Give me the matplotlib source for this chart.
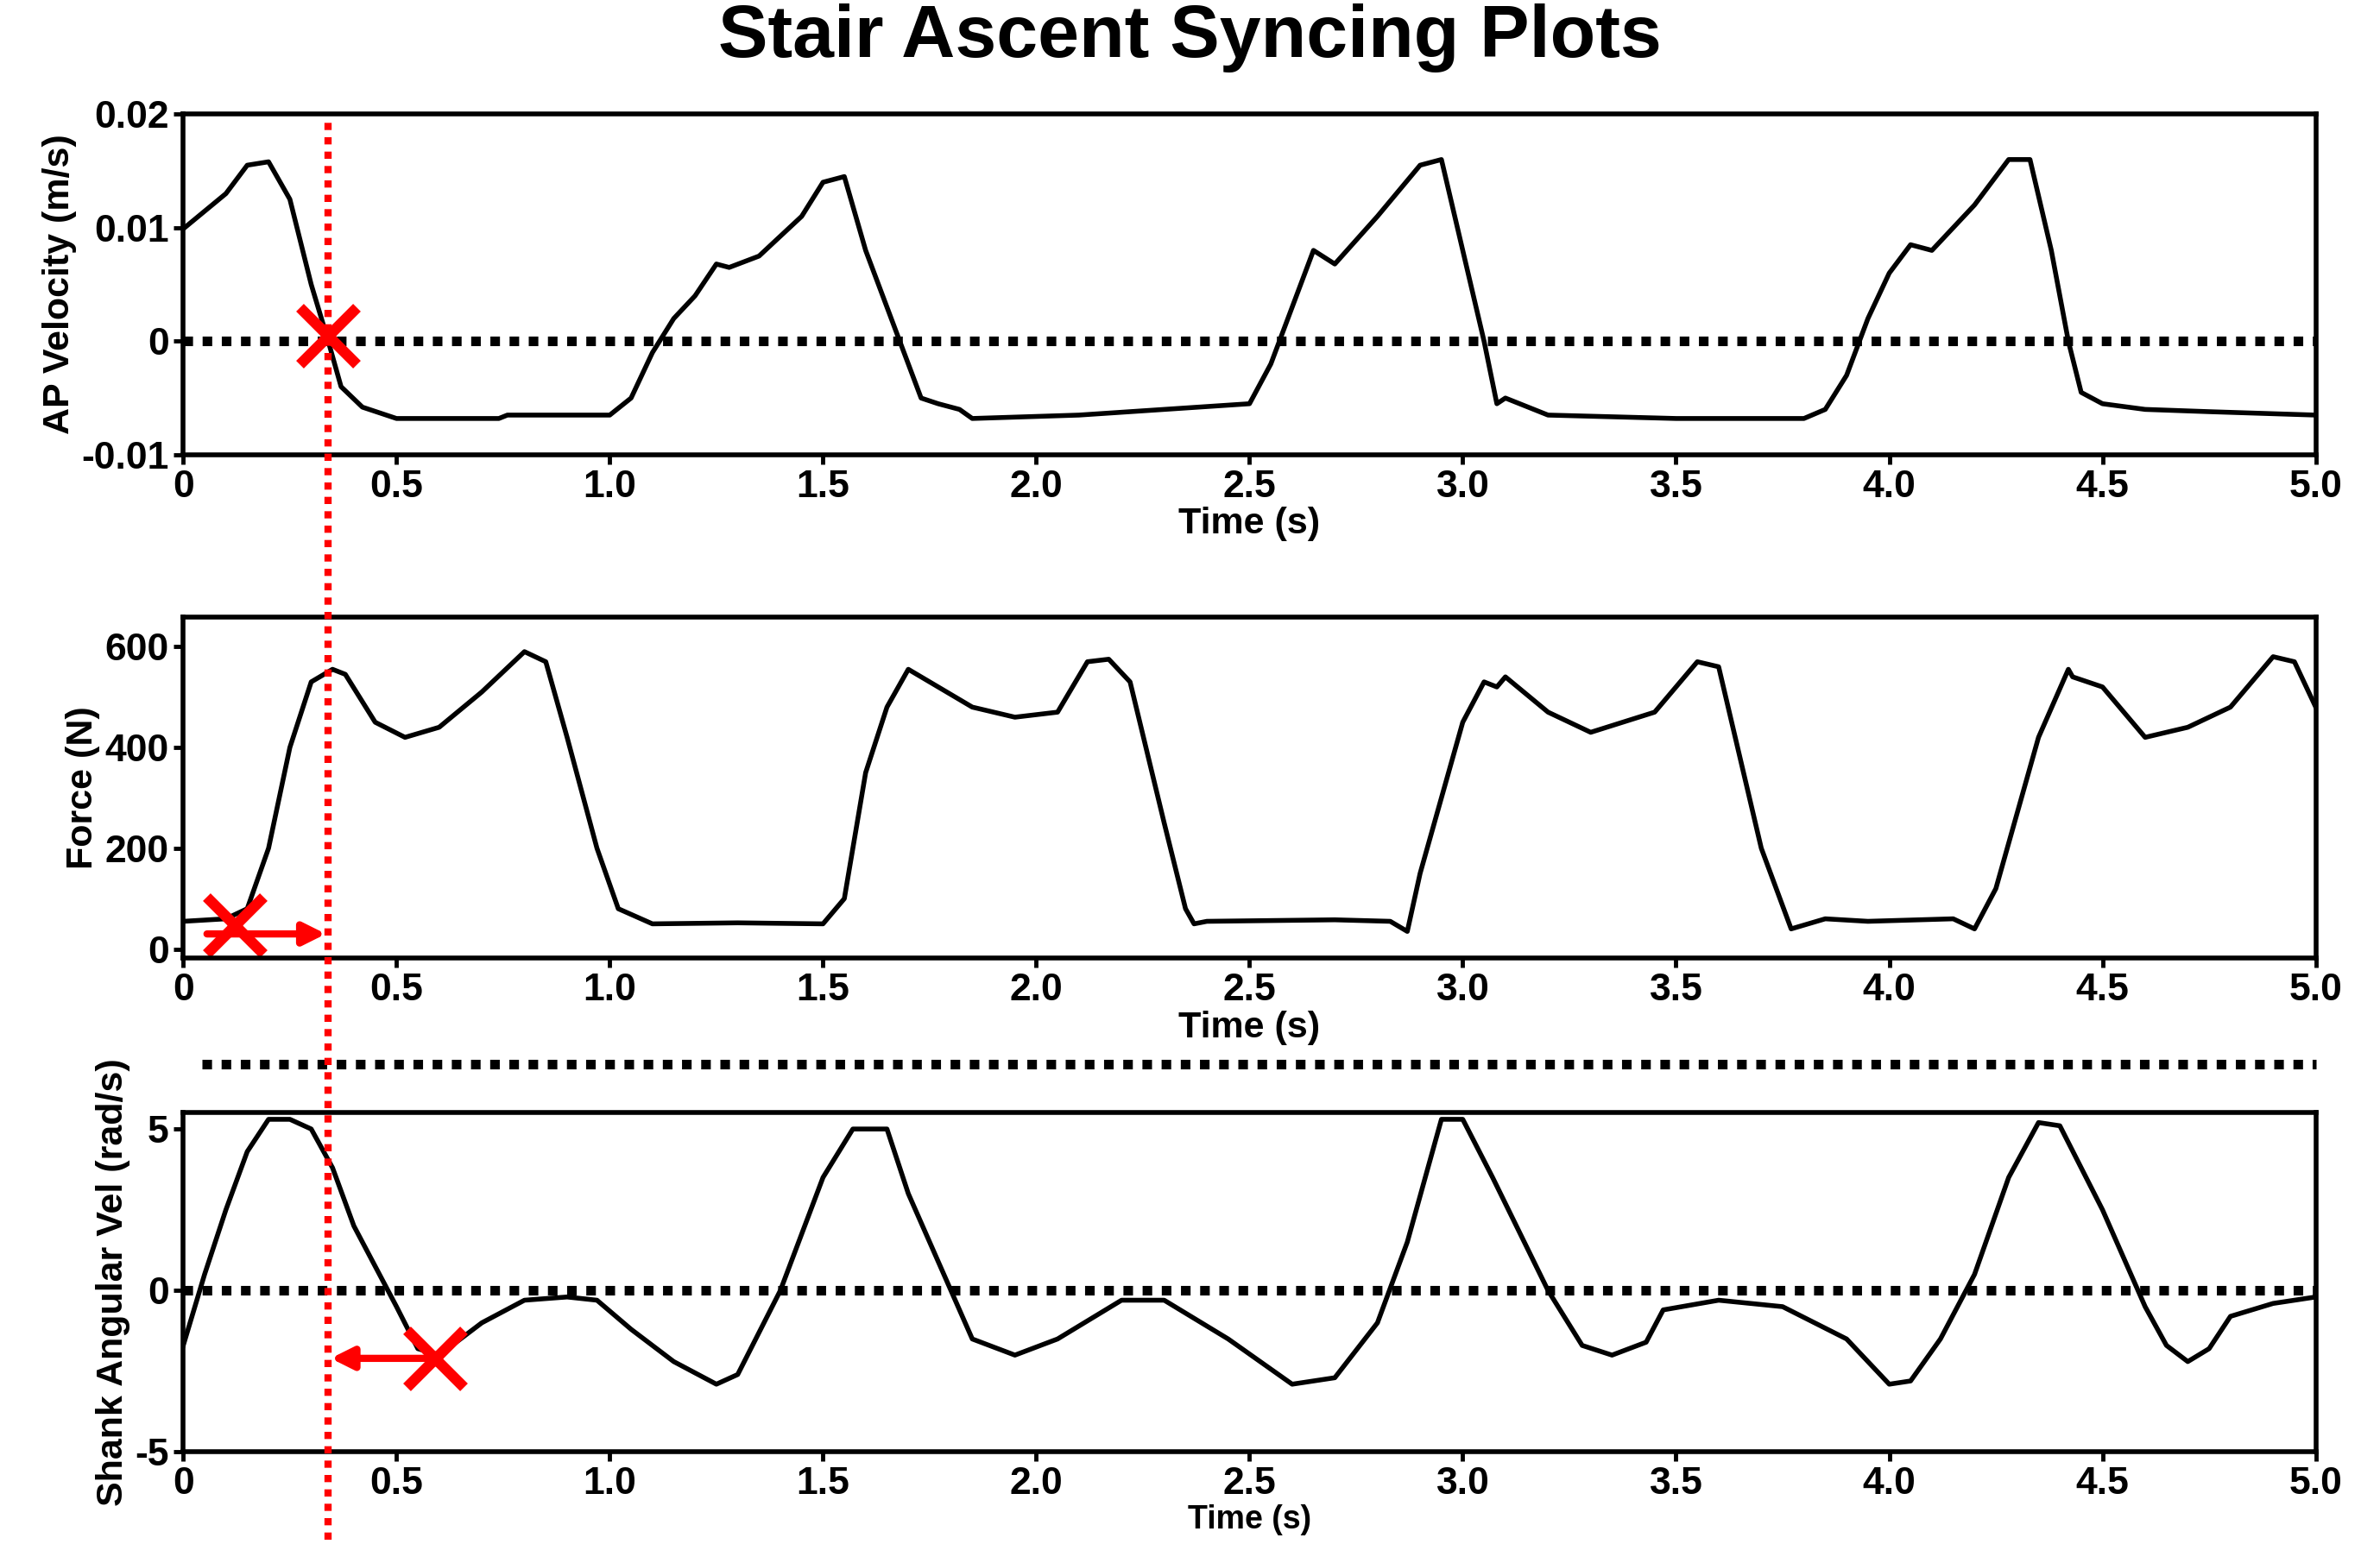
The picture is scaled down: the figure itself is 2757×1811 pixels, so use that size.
import numpy as np
import matplotlib.pyplot as plt
import matplotlib.transforms as mtrans
from matplotlib.lines import Line2D

plt.rcParams['font.family'] = ['Liberation Sans', 'DejaVu Sans']
plt.rcParams['font.weight'] = 'bold'
plt.rcParams['axes.unicode_minus'] = False

# AP velocity waypoints
t_vel = [0, 0.1, 0.15, 0.2, 0.25, 0.3, 0.34, 0.37, 0.42, 0.5, 0.74, 0.76, 1.0, 1.05, 1.1, 1.15, 1.2, 1.25,
         1.28, 1.35, 1.45, 1.5, 1.55, 1.6, 1.68, 1.73, 1.77, 1.82, 1.85, 2.1, 2.5, 2.55, 2.6, 2.65, 2.7,
         2.8, 2.9, 2.95, 3.0, 3.05, 3.08, 3.1, 3.2, 3.5, 3.8, 3.85, 3.9, 3.95, 4.0, 4.05, 4.1, 4.2, 4.28,
         4.33, 4.38, 4.42, 4.45, 4.5, 4.6, 4.75, 5.0]
vel = [0.0099, 0.013, 0.0155, 0.0158, 0.0125, 0.005, 0.0, -0.004, -0.0058, -0.0068, -0.0068, -0.0065,
       -0.0065, -0.005, -0.001, 0.002, 0.004, 0.0068, 0.0065, 0.0075, 0.011, 0.014, 0.0145, 0.008, 0.0,
       -0.005, -0.0055, -0.006, -0.0068, -0.0065, -0.0055, -0.002, 0.003, 0.008, 0.0068, 0.011, 0.0155,
       0.016, 0.008, 0.0, -0.0055, -0.005, -0.0065, -0.0068, -0.0068, -0.006, -0.003, 0.002, 0.006,
       0.0085, 0.008, 0.012, 0.016, 0.016, 0.008, 0.0, -0.0045, -0.0055, -0.006, -0.0062, -0.0065]

# vertical force
t_force = [0, 0.1, 0.15, 0.2, 0.25, 0.3, 0.35, 0.38, 0.45, 0.52, 0.6, 0.7, 0.8, 0.85, 0.9, 0.97, 1.02,
           1.1, 1.3, 1.5, 1.55, 1.6, 1.65, 1.7, 1.75, 1.85, 1.95, 2.05, 2.12, 2.17, 2.22, 2.3, 2.35, 2.37,
           2.4, 2.7, 2.83, 2.87, 2.9, 3.0, 3.05, 3.08, 3.1, 3.2, 3.3, 3.45, 3.55, 3.6, 3.7, 3.77, 3.85,
           3.95, 4.15, 4.2, 4.25, 4.35, 4.42, 4.43, 4.5, 4.6, 4.7, 4.8, 4.9, 4.95, 5.0]
force = [55, 60, 80, 200, 400, 530, 555, 545, 450, 420, 440, 510, 590, 570, 420, 200, 80, 50, 52, 50,
         100, 350, 480, 555, 530, 480, 460, 470, 570, 575, 530, 250, 80, 50, 55, 58, 55, 35, 150, 450,
         530, 520, 540, 470, 430, 470, 570, 560, 200, 40, 60, 55, 60, 40, 120, 420, 555, 540, 520, 420,
         440, 480, 580, 570, 480]

# shank angular velocity
t_shank = [0, 0.05, 0.1, 0.15, 0.2, 0.25, 0.3, 0.35, 0.4, 0.5, 0.55, 0.6, 0.7, 0.8, 0.9, 0.97, 1.05,
           1.15, 1.25, 1.3, 1.4, 1.5, 1.57, 1.65, 1.7, 1.8, 1.85, 1.95, 2.05, 2.2, 2.3, 2.45, 2.6, 2.7,
           2.8, 2.87, 2.95, 3.0, 3.07, 3.2, 3.28, 3.35, 3.43, 3.47, 3.6, 3.75, 3.9, 4.0, 4.05, 4.12, 4.2,
           4.28, 4.35, 4.4, 4.5, 4.6, 4.65, 4.7, 4.75, 4.8, 4.9, 5.0]
shank = [-1.7, 0.5, 2.5, 4.3, 5.3, 5.3, 5.0, 3.8, 2.0, -0.5, -1.8, -2.0, -1.0, -0.3, -0.2, -0.3, -1.2,
         -2.2, -2.9, -2.6, 0.0, 3.5, 5.0, 5.0, 3.0, 0.0, -1.5, -2.0, -1.5, -0.3, -0.3, -1.5, -2.9, -2.7,
         -1.0, 1.5, 5.3, 5.3, 3.5, 0.0, -1.7, -2.0, -1.6, -0.6, -0.3, -0.5, -1.5, -2.9, -2.8, -1.5, 0.5,
         3.5, 5.2, 5.1, 2.5, -0.5, -1.7, -2.2, -1.8, -0.8, -0.4, -0.2]

x_ticks = [0, 0.5, 1.0, 1.5, 2.0, 2.5, 3.0, 3.5, 4.0, 4.5, 5.0]
x_ticklabels = ['0', '0.5', '1.0', '1.5', '2.0', '2.5', '3.0', '3.5', '4.0', '4.5', '5.0']
t_sync = 0.34

fig = plt.figure(figsize=(27.57, 18.11), dpi=100)
ax1 = fig.add_axes([0.077, 0.709, 0.896, 0.218])
ax2 = fig.add_axes([0.077, 0.387, 0.896, 0.218])
ax3 = fig.add_axes([0.077, 0.071, 0.896, 0.217])

def style(ax, ylab, xlab_size=31):
    ax.set_xlim(0, 5)
    ax.set_xticks(x_ticks)
    ax.set_xticklabels(x_ticklabels)
    ax.tick_params(labelsize=32, width=3.5, length=8, pad=4)
    for s in ax.spines.values():
        s.set_linewidth(4)
    ax.set_xlabel('Time (s)', fontsize=xlab_size, fontweight='bold', labelpad=2)
    ax.set_ylabel(ylab, fontsize=31, fontweight='bold', labelpad=4)

ax1.plot(t_vel, vel, color='black', lw=4)
ax1.axhline(0, color='black', lw=8, ls=(0, (1, 1)))
ax1.set_ylim(-0.01, 0.02)
ax1.set_yticks([-0.01, 0, 0.01, 0.02])
ax1.set_yticklabels(['-0.01', '0', '0.01', '0.02'])
style(ax1, 'AP Velocity (m/s)')
ax1.plot([t_sync], [0.0005], marker='x', color='red', ms=48, mew=9)

ax2.plot(t_force, force, color='black', lw=4)
ax2.set_ylim(-18, 658)
ax2.set_yticks([0, 200, 400, 600])
style(ax2, 'Force (N)')
ax2.plot([0.12], [48], marker='x', color='red', ms=48, mew=9, clip_on=False)
ax2.annotate('', xy=(t_sync, 30), xytext=(0.05, 30),
             arrowprops=dict(arrowstyle='-|>', color='red', lw=6, mutation_scale=38))

ax3.plot(t_shank, shank, color='black', lw=4)
ax3.axhline(0, color='black', lw=8, ls=(0, (1, 1)))
ax3.set_ylim(-5, 5.5)
ax3.set_yticks([-5, 0, 5])
style(ax3, 'Shank Angular Vel (rad/s)', xlab_size=27)
ax3.plot([0.59], [-2.1], marker='x', color='red', ms=48, mew=9)
ax3.annotate('', xy=(t_sync, -2.1), xytext=(0.6, -2.1),
             arrowprops=dict(arrowstyle='-|>', color='red', lw=6, mutation_scale=38))

# dotted separator between the force and shank panels
fig.add_artist(Line2D([0.085, 0.973], [0.319, 0.319], transform=fig.transFigure,
                      color='black', lw=8, ls=(0, (1, 1))))

# red sync line running through all panels
tr = mtrans.blended_transform_factory(ax1.transData, fig.transFigure)
fig.add_artist(Line2D([t_sync, t_sync], [0.015, 0.922], transform=tr,
                      color='red', lw=6, ls=(0, (1, 1))))

fig.suptitle('Stair Ascent Syncing Plots', fontsize=62, fontweight='bold', y=0.998)
fig.savefig('out.png', dpi=100)
